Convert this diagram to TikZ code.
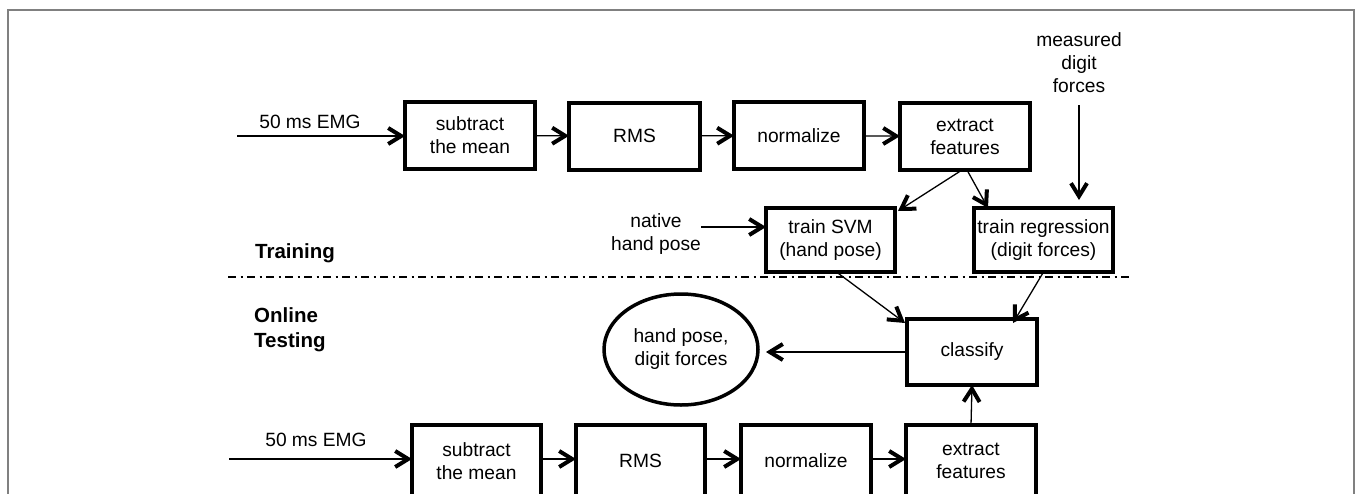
\documentclass[tikz,border=0pt]{standalone}
\usepackage{fontspec}
\setmainfont{Liberation Sans}
\usetikzlibrary{arrows.meta,shapes.geometric}
\begin{document}
\begin{tikzpicture}[x=1pt,y=-1pt,
  txt/.style={font=\fontsize{19.2}{23}\selectfont, align=center, inner sep=0pt, outer sep=0pt},
  phase/.style={font=\fontsize{20.5}{25}\selectfont\bfseries, align=left, inner sep=0pt},
  stage/.style={txt, draw, line width=4pt, minimum height=67pt},
  flow/.style={line width=1.3pt, -{Straight Barb[length=13pt,width=16pt,line width=4pt 0 1]}},
  frame/.style={draw=gray, line width=1.5pt},
  divider/.style={line width=1.2pt, dash pattern=on 8pt off 4.5pt on 2pt off 4.5pt}
]
\clip (0,0) rectangle (1356,493);
\useasboundingbox (0,0) rectangle (1356,493);

% outer frame
\draw[frame] (8,520) -- (8,10) -- (1354,10) -- (1354,520);

% training pipeline
\node[stage, minimum width=130pt] (sm1)  at (470,135.5) {subtract\\the mean};
\node[stage, minimum width=131pt] (rms1) at (634.5,136) {RMS};
\node[stage, minimum width=130pt] (nrm1) at (799,135.5) {normalize};
\node[stage, minimum width=130pt] (ef1)  at (965,136.5) {extract\\features};

\node[txt] (emg1) at (310,122) {50 ms EMG};
\coordinate (in1) at (237,136);

\node[stage, minimum width=129pt, minimum height=64pt] (svm) at (830.5,240) {train SVM\\(hand pose)};
\node[stage, minimum width=139pt, minimum height=64pt] (reg) at (1043.5,240) {train regression\\(digit forces)};

\node[txt] (nhp) at (656,234) {native\\hand pose};
\coordinate (nhpin) at (701,227);

\node[txt] (mdf) at (1079,63) {measured\\digit\\forces};
\coordinate (mdfin) at (1079,105);

\node[phase] (train) at (295,253) {Training};
\node[phase, anchor=west] (online) at (254,329.5) {Online\\Testing};

% phase separator
\draw[divider] (228,277) -- (1133,277);

% online testing
\node[stage, minimum width=130pt, minimum height=66pt] (cls) at (972,352) {classify};
\node[txt, draw, ellipse, line width=3.5pt, minimum width=154pt, minimum height=111pt] (out) at (681,349.5) {hand pose,\\digit forces};

\node[stage, minimum width=129pt, minimum height=72pt] (sm2)  at (476.5,461) {subtract\\the mean};
\node[stage, minimum width=129pt, minimum height=72pt] (rms2) at (640.5,461) {RMS};
\node[stage, minimum width=130pt, minimum height=72pt] (nrm2) at (806,461) {normalize};
\node[stage, minimum width=130pt, minimum height=72pt] (ef2)  at (971,461) {extract\\features};

\node[txt] (emg2) at (316,440) {50 ms EMG};
\coordinate (in2) at (229,459);

% connectors
\draw[flow] (in1) -- (sm1.west |- in1);
\draw[flow] (sm1) -- (rms1);
\draw[flow] (rms1) -- (nrm1);
\draw[flow] (nrm1) -- (ef1);
\draw[flow] ([xshift=-3pt]ef1.south) -- ([xshift=3pt,yshift=-3pt]svm.north east);
\draw[flow] ([xshift=2pt]ef1.south) -- ([xshift=14pt]reg.north west);
\draw[flow] (nhpin) -- (svm.west |- nhpin);
\draw[flow, shorten >=8pt] (mdfin) -- (reg.north -| mdfin);
\draw[flow] ([xshift=6pt]svm.south) -- ([xshift=-2pt,yshift=-4pt]cls.north west);
\draw[flow] (reg.south) -- ([xshift=-24pt,yshift=-4pt]cls.north east);
\draw[flow, shorten >=8pt] (cls.west) -- (out.east |- cls.west);

\draw[flow] (in2) -- (sm2.west |- in2);
\draw[flow] (sm2.east |- in2) -- (rms2.west |- in2);
\draw[flow] (rms2.east |- in2) -- (nrm2.west |- in2);
\draw[flow] (nrm2.east |- in2) -- (ef2.west |- in2);
\draw[flow] (ef2.north) -- (cls.south);
\end{tikzpicture}
\end{document}
